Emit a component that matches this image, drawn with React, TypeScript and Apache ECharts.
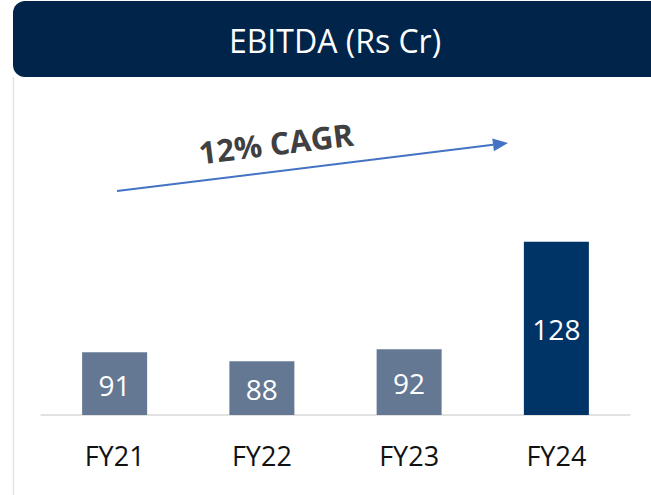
import React, { useEffect, useRef } from "react";
import * as echarts from "echarts";

const categories = ["FY21", "FY22", "FY23", "FY24"];
const ebitda = [91, 88, 92, 128];
const titleText = "EBITDA (Rs Cr)";
const cagrText = "12% CAGR";

const FONT = "'Open Sans', 'Noto Sans', sans-serif";

export default function App() {
  const ref = useRef<HTMLDivElement>(null);
  useEffect(() => {
    document.body.style.margin = "0";
    if (!ref.current) return;
    const chart = echarts.init(ref.current, null, { renderer: "svg" });
    const tip = [508, 143];
    const start = [117, 191];
    const dx = tip[0] - start[0];
    const dy = tip[1] - start[1];
    const len = Math.sqrt(dx * dx + dy * dy);
    const ux = dx / len;
    const uy = dy / len;
    const hl = 15;
    const hw = 6.5;
    const bx = tip[0] - hl * ux;
    const by = tip[1] - hl * uy;
    chart.setOption({
      animation: false,
      grid: { left: 41, right: 21, top: 176, bottom: 80 },
      xAxis: {
        type: "category",
        data: categories,
        axisLine: { lineStyle: { color: "#d9d9d9", width: 1.5 } },
        axisTick: { show: false },
        axisLabel: { fontSize: 27, color: "#111", fontFamily: FONT, margin: 27 },
      },
      yAxis: { type: "value", min: 70, max: 150, show: false },
      series: [
        {
          type: "bar",
          barWidth: 65,
          data: ebitda.map((v, i) => ({
            value: v,
            itemStyle: { color: i === ebitda.length - 1 ? "#003366" : "#647893" },
          })),
          label: {
            show: true,
            position: "inside",
            color: "#fff",
            fontSize: 28,
            fontFamily: FONT,
            offset: [0, 1],
          },
        },
      ],
      graphic: [
        {
          type: "rect",
          shape: { x: 13, y: 1, width: 680, height: 76, r: 12 },
          style: { fill: "#00244a" },
        },
        {
          type: "text",
          x: 335,
          y: 40,
          style: {
            text: titleText,
            fill: "#fff",
            fontSize: 32,
            fontFamily: FONT,
            align: "center",
            verticalAlign: "middle",
          },
        },
        {
          type: "line",
          shape: { x1: 13.5, y1: 77, x2: 13.5, y2: 495 },
          style: { stroke: "#e2e2ea", lineWidth: 1.5 },
        },
        {
          type: "line",
          shape: { x1: start[0], y1: start[1], x2: bx, y2: by },
          style: { stroke: "#4472c4", lineWidth: 2 },
        },
        {
          type: "polygon",
          shape: {
            points: [
              [tip[0], tip[1]],
              [bx - hw * uy, by + hw * ux],
              [bx + hw * uy, by - hw * ux],
            ],
          },
          style: { fill: "#4472c4" },
        },
        {
          type: "text",
          x: 276,
          y: 143,
          rotation: (7 * Math.PI) / 180,
          style: {
            text: cagrText,
            fill: "#404040",
            fontSize: 31,
            fontWeight: "bold",
            fontFamily: FONT,
            align: "center",
            verticalAlign: "middle",
          },
        },
      ],
    });
    return () => chart.dispose();
  }, []);
  return <div ref={ref} style={{ width: 651, height: 495 }} />;
}
